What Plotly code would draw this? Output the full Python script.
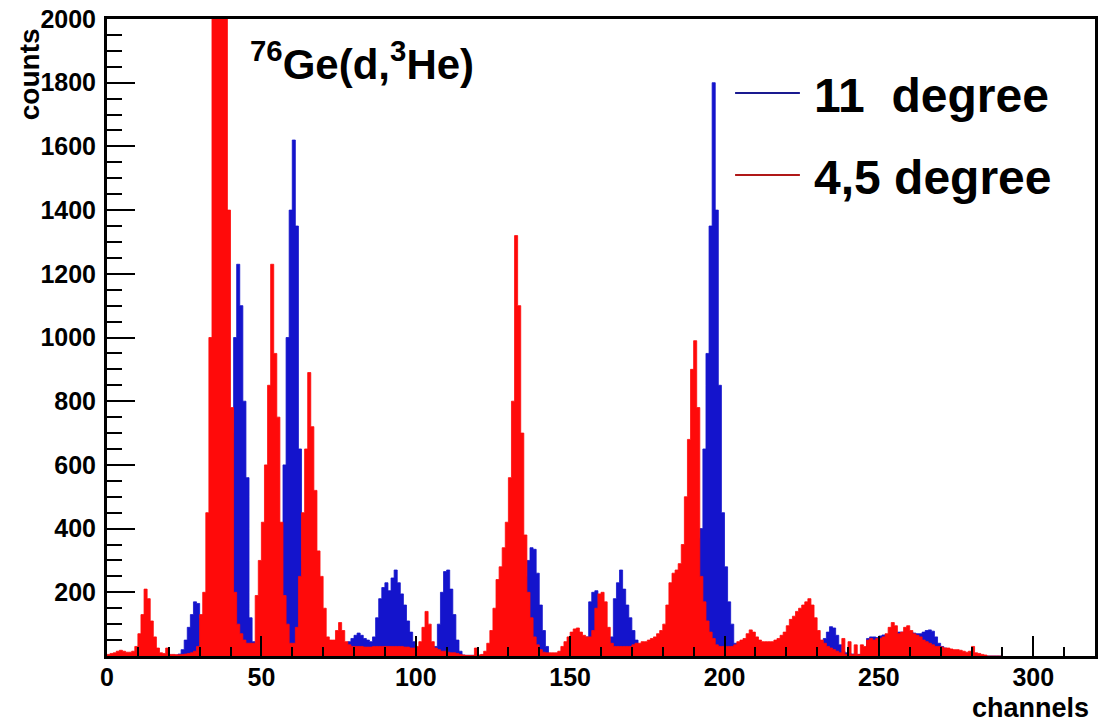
import numpy as np
import plotly.graph_objects as go

# counts per channel (bin k covers channel [k, k+1))
red_45deg = [
    5, 8, 10, 15, 18, 15, 12, 12, 15, 30,
    70, 130, 210, 180, 110, 60, 25, 10, 8, 25,
    5, 5, 4, 4, 5, 6, 8, 10, 15, 30,
    130, 200, 450, 1000, 2500, 3500, 3900, 3500, 2600, 1400,
    780, 200, 100, 70, 50, 40, 40, 40, 190, 300,
    420, 600, 850, 1230, 950, 750, 420, 190, 100, 40,
    40, 90, 250, 450, 650, 890, 720, 520, 330, 250,
    150, 60, 50, 50, 80, 105, 80, 45, 35, 30,
    30, 30, 30, 28, 28, 28, 30, 30, 30, 30,
    30, 30, 30, 30, 30, 30, 28, 28, 25, 25,
    30, 45, 90, 140, 100, 45, 25, 20, 15, 15,
    12, 10, 10, 8, 5, 3, 2, 2, 2, 25,
    3, 5, 15, 40, 80, 150, 240, 280, 340, 420,
    560, 800, 1320, 1100, 700, 380, 200, 120, 60, 35,
    20, 12, 10, 10, 10, 10, 15, 30, 45, 60,
    75, 85, 88, 75, 65, 60, 60, 80, 150, 195,
    200, 170, 90, 40, 30, 30, 30, 30, 30, 30,
    35, 40, 40, 45, 45, 50, 55, 60, 70, 80,
    100, 160, 230, 260, 270, 290, 350, 500, 680, 900,
    990, 780, 250, 170, 110, 75, 55, 35, 30, 30,
    30, 30, 30, 35, 45, 50, 55, 70, 82, 75,
    60, 50, 45, 45, 45, 45, 50, 55, 65, 75,
    95, 115, 125, 140, 150, 160, 170, 180, 160, 120,
    80, 50, 40, 30, 25, 20, 15, 10, 55, 5,
    45, 5, 35, 5, 35, 30, 50, 55, 50, 55,
    55, 60, 70, 90, 105, 95, 70, 75, 90, 95,
    80, 70, 65, 60, 50, 45, 40, 35, 30, 30,
    28, 25, 25, 22, 20, 20, 18, 15, 12, 15,
    30, 10, 8, 5, 3, 0, 0, 0, 0, 0,
]

blue_11deg = [
    0, 0, 0, 0, 0, 1, 1, 1, 1, 1,
    2, 3, 4, 4, 3, 3, 2, 2, 2, 2,
    3, 3, 3, 6, 20, 50, 90, 130, 170, 165,
    120, 130, 150, 200, 300, 400, 500, 600, 650, 700,
    700, 1000, 1230, 1100, 800, 560, 120, 45, 30, 30,
    40, 50, 60, 80, 100, 150, 300, 600, 1000, 1400,
    1620, 1350, 650, 300, 150, 80, 60, 50, 45, 40,
    40, 40, 40, 40, 40, 40, 40, 40, 45, 55,
    65, 72, 65, 55, 50, 45, 60, 120, 180, 215,
    230, 205, 245, 270, 230, 195, 160, 110, 75, 45,
    25, 20, 20, 20, 20, 20, 30, 100, 200, 265,
    270, 210, 130, 50, 15, 3, 2, 2, 2, 2,
    2, 3, 5, 10, 20, 30, 40, 50, 60, 70,
    80, 100, 120, 150, 200, 250, 300, 340, 335, 260,
    160, 80, 30, 8, 5, 5, 10, 15, 20, 25,
    30, 35, 40, 45, 50, 60, 170, 200, 205, 170,
    120, 80, 50, 60, 180, 230, 270, 210, 160, 120,
    80, 50, 30, 20, 15, 15, 15, 15, 15, 15,
    20, 30, 40, 60, 80, 100, 150, 200, 250, 300,
    350, 370, 400, 650, 950, 1350, 1800, 1400, 850, 450,
    280, 170, 100, 40, 20, 15, 12, 10, 10, 10,
    10, 10, 10, 12, 15, 20, 25, 30, 35, 40,
    45, 50, 55, 60, 60, 60, 55, 50, 45, 40,
    35, 35, 55, 75, 92, 88, 65, 35, 15, 10,
    8, 6, 5, 5, 5, 20, 55, 60, 60, 58,
    63, 66, 65, 68, 70, 72, 75, 75, 75, 75,
    75, 72, 70, 70, 75, 80, 82, 78, 60, 40,
    30, 25, 20, 18, 15, 12, 10, 10, 8, 8,
    5, 3, 2, 0, 0, 0, 0, 0, 0, 0,
]

series_names = ["11\u00a0\u00a0degree", "4,5 degree"]
x_tickvals = [0, 50, 100, 150, 200, 250, 300]
y_tickvals = [200, 400, 600, 800, 1000, 1200, 1400, 1600, 1800, 2000]

BLUE = "#1414cc"
RED = "#ff0a0a"
FONT = "Liberation Sans"


def step_trace(values, fill):
    edges = np.arange(len(values) + 1)
    y = list(values) + [0]
    return go.Scatter(
        x=edges, y=y, mode="lines", line_shape="hv",
        line=dict(color=fill, width=0.8), fill="tozeroy", fillcolor=fill,
        hoverinfo="skip", showlegend=False,
    )


fig = go.Figure()
fig.add_trace(step_trace(blue_11deg, BLUE))
fig.add_trace(step_trace(red_45deg, RED))

W, H = 1103, 722
L, R, T, B = 107, 5, 19, 66
pw, ph = W - L - R, H - T - B


def px(x):
    return (x - L) / pw


def py(y):
    return (H - B - y) / ph


fig.update_layout(
    width=W, height=H,
    margin=dict(l=L, r=R, t=T, b=B),
    paper_bgcolor="white", plot_bgcolor="white",
    showlegend=False,
    font=dict(family=FONT, color="black"),
)

fig.update_xaxes(
    range=[0, 320], tickmode="array", tickvals=x_tickvals,
    ticks="inside", ticklen=20, tickwidth=2, tickcolor="black",
    minor=dict(ticks="inside", ticklen=9, tickwidth=2, tickcolor="black",
               tickmode="linear", tick0=0, dtick=10),
    showline=True, linewidth=3, linecolor="black", mirror=True,
    showgrid=False, zeroline=False,
    tickfont=dict(family=FONT, size=25, color="black", weight="bold"),
    ticklabelstandoff=-3,
)
fig.update_yaxes(
    range=[0, 2000], tickmode="array", tickvals=y_tickvals,
    ticks="inside", ticklen=28, tickwidth=2, tickcolor="black",
    minor=dict(ticks="inside", ticklen=15, tickwidth=2, tickcolor="black",
               tickmode="linear", tick0=0, dtick=50),
    showline=True, linewidth=3, linecolor="black", mirror=True,
    showgrid=False, zeroline=False,
    tickfont=dict(family=FONT, size=25, color="black", weight="bold"),
    ticklabelstandoff=3,
)

annotations = [
    dict(text="<b>counts</b>", x=px(29), y=py(74), xref="paper", yref="paper",
         textangle=-90, showarrow=False, xanchor="center", yanchor="middle",
         font=dict(family=FONT, size=28, color="black")),
    dict(text="<b>channels</b>", x=px(1094), y=py(691), xref="paper", yref="paper",
         showarrow=False, xanchor="right", yanchor="top",
         font=dict(family=FONT, size=27, color="black")),
    dict(text="<b><sup>76</sup>Ge(d,<sup>3</sup>He)</b>", x=px(248), y=py(32),
         xref="paper", yref="paper", showarrow=False, xanchor="left", yanchor="top",
         font=dict(family=FONT, size=42, color="black")),
    dict(text="<b>" + series_names[0] + "</b>", x=px(814), y=py(95), xref="paper",
         yref="paper", showarrow=False, xanchor="left", yanchor="middle",
         font=dict(family=FONT, size=48, color="black")),
    dict(text="<b>" + series_names[1] + "</b>", x=px(814), y=py(178), xref="paper",
         yref="paper", showarrow=False, xanchor="left", yanchor="middle",
         font=dict(family=FONT, size=48, color="black")),
]
fig.update_layout(annotations=annotations)

fig.add_shape(type="line", xref="paper", yref="paper", x0=px(737), x1=px(802),
              y0=py(93), y1=py(93), line=dict(color="#1a1a90", width=2))
fig.add_shape(type="line", xref="paper", yref="paper", x0=px(737), x1=px(802),
              y0=py(175), y1=py(175), line=dict(color="#b01818", width=2))

fig.write_html("out.html")
